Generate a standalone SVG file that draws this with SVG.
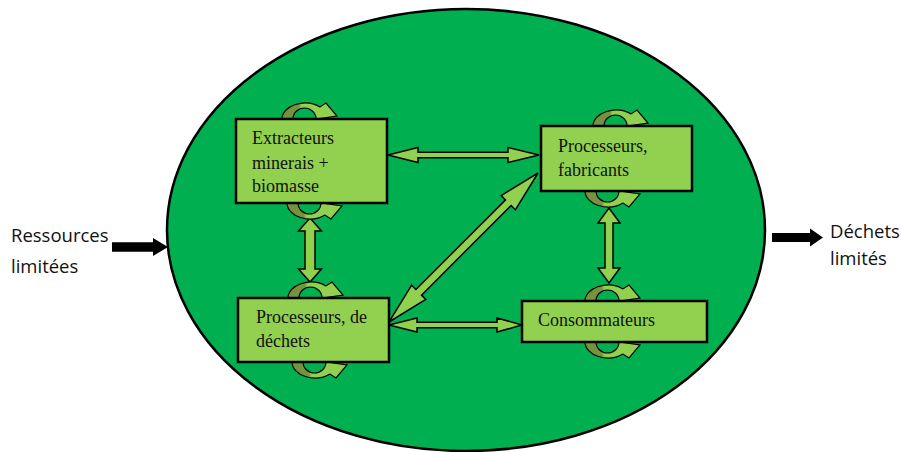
<svg xmlns="http://www.w3.org/2000/svg" width="901" height="452" viewBox="0 0 901 452">
<defs>
<linearGradient id="loopGrad" x1="0" y1="0" x2="1" y2="0">
<stop offset="0" stop-color="#76923c"/>
<stop offset="0.3" stop-color="#76923c"/>
<stop offset="0.36" stop-color="#92d050"/>
<stop offset="1" stop-color="#92d050"/>
</linearGradient>
<path id="loop" d="M -23,3 L -23,0 A 23 16 0 0 1 15,-12.1 L 21,-16 L 32,-3 L 11,0 A 11.5 11 0 0 0 -12,0 L -12,3 Z"/>
</defs>
<style>
.box{fill:#92d050;stroke:#000;stroke-width:2.5}
.arr{fill:#92d050;stroke:#000;stroke-width:1.5;stroke-linejoin:miter}
.loop{fill:url(#loopGrad);stroke:#000;stroke-width:1.2}
.blk{fill:#000}
.lbl{font-family:"Liberation Serif","Times New Roman",serif;font-size:18px;fill:#111}
.side{font-family:"Open Sans","Noto Sans",sans-serif;font-size:18.5px;fill:#111}
</style>
<rect width="901" height="452" fill="#fff"/>
<ellipse cx="466" cy="230" rx="299" ry="221" fill="#00b050" stroke="#000" stroke-width="2.5"/>
<g id="connectors">
<polygon class="blk" points="112,242.3 153,242.3 153,238 168,247 153,256 153,251.7 112,251.7"/>
<polygon class="blk" points="772,233 810,233 810,228.5 823,237.5 810,246.5 810,242 772,242"/>
<polygon class="arr" points="388,155 418,147.5 418,152.2 508,152.2 508,147.5 539,155 508,162.5 508,157.8 418,157.8 418,162.5"/>
<polygon class="arr" points="389,325 417,318 417,322.3 497,322.3 497,318 522,325 497,332 497,327.7 417,327.7 417,332"/>
<polygon class="arr" transform="translate(389,322) rotate(-45)" points="0,0 42,-10 42,-4 168.7,-4 168.7,-10 210.7,0 168.7,10 168.7,4 42,4 42,10"/>
<polygon class="arr" points="310,218 321.5,231 315,231 315,269 321.5,269 310,282 298.5,269 305,269 305,231 298.5,231"/>
<polygon class="arr" points="609,208 620,223 613,223 613,268 620,268 609,283 598,268 605,268 605,223 598,223"/>
</g>
<g id="node-extracteurs">
<use href="#loop" class="loop" transform="translate(305,119)"/>
<use href="#loop" class="loop" transform="translate(310,203) scale(1,-1)"/>
<rect class="box" x="236" y="119" width="151" height="84"/>
<text class="lbl" x="252" y="144">Extracteurs</text>
<text class="lbl" x="252" y="169">minerais +</text>
<text class="lbl" x="252" y="192">biomasse</text>
</g>
<g id="node-fabricants">
<use href="#loop" class="loop" transform="translate(616,126)"/>
<use href="#loop" class="loop" transform="translate(608,191) scale(1,-1)"/>
<rect class="box" x="541" y="126" width="151" height="65"/>
<text class="lbl" x="558" y="152">Processeurs,</text>
<text class="lbl" x="558" y="176">fabricants</text>
</g>
<g id="node-dechets">
<use href="#loop" class="loop" transform="translate(311,298)"/>
<use href="#loop" class="loop" transform="translate(315,362) scale(1,-1)"/>
<rect class="box" x="238" y="298" width="151" height="64"/>
<text class="lbl" x="256" y="323">Processeurs, de</text>
<text class="lbl" x="256" y="347">déchets</text>
</g>
<g id="node-consommateurs">
<use href="#loop" class="loop" transform="translate(608,301)"/>
<use href="#loop" class="loop" transform="translate(608,342) scale(1,-1)"/>
<rect class="box" x="522" y="301" width="185" height="41"/>
<text class="lbl" x="538" y="326">Consommateurs</text>
</g>
<g id="labels">
<text class="side" x="11" y="242">Ressources</text>
<text class="side" x="11" y="273">limitées</text>
<text class="side" x="830" y="238">Déchets</text>
<text class="side" x="830" y="265">limités</text>
</g>
</svg>
